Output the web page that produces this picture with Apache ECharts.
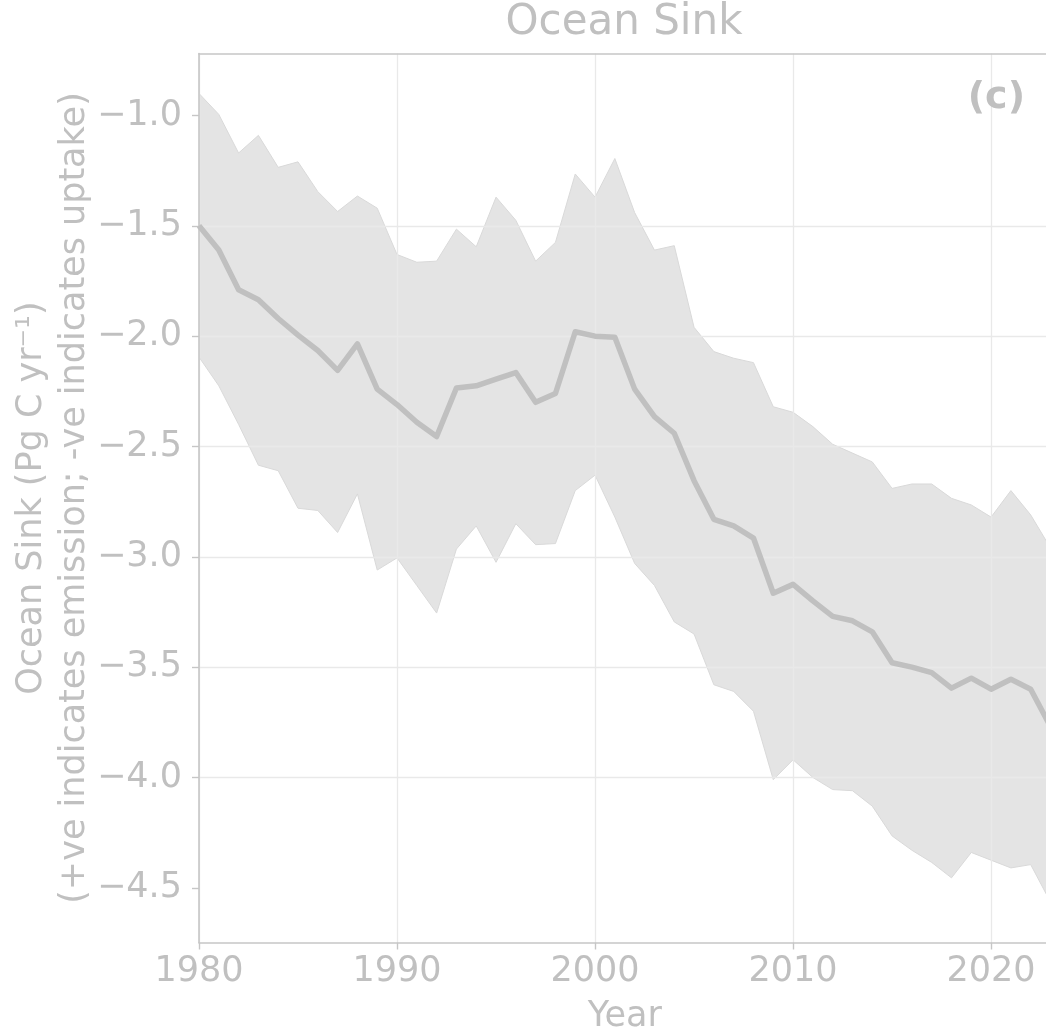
<!DOCTYPE html>
<html>
<head>
<meta charset="utf-8">
<script src="https://cdn.jsdelivr.net/npm/echarts@6/dist/echarts.min.js"></script>
<style>
html,body{margin:0;padding:0;background:#fff;}
#chart{width:1046px;height:1031px;}
</style>
</head>
<body>
<div id="chart"></div>
<script>
const years = [1980,1981,1982,1983,1984,1985,1986,1987,1988,1989,1990,1991,1992,1993,1994,1995,1996,1997,1998,1999,2000,2001,2002,2003,2004,2005,2006,2007,2008,2009,2010,2011,2012,2013,2014,2015,2016,2017,2018,2019,2020,2021,2022,2023];
const meanSink = [-1.50,-1.61,-1.79,-1.835,-1.92,-1.995,-2.065,-2.155,-2.035,-2.24,-2.31,-2.39,-2.455,-2.235,-2.225,-2.195,-2.165,-2.30,-2.26,-1.98,-2.00,-2.005,-2.24,-2.365,-2.44,-2.655,-2.83,-2.86,-2.915,-3.165,-3.125,-3.20,-3.27,-3.29,-3.34,-3.48,-3.50,-3.525,-3.595,-3.55,-3.60,-3.555,-3.60,-3.77];
const upperSink = [-0.90,-0.995,-1.17,-1.09,-1.235,-1.21,-1.345,-1.435,-1.365,-1.42,-1.63,-1.665,-1.66,-1.515,-1.595,-1.37,-1.475,-1.66,-1.575,-1.265,-1.37,-1.195,-1.44,-1.61,-1.59,-1.96,-2.07,-2.10,-2.12,-2.32,-2.345,-2.41,-2.49,-2.53,-2.57,-2.69,-2.67,-2.67,-2.735,-2.765,-2.82,-2.70,-2.81,-2.96];
const lowerSink = [-2.095,-2.225,-2.40,-2.585,-2.61,-2.78,-2.79,-2.89,-2.715,-3.06,-3.005,-3.13,-3.255,-2.965,-2.86,-3.025,-2.85,-2.945,-2.94,-2.70,-2.63,-2.82,-3.03,-3.13,-3.295,-3.35,-3.58,-3.61,-3.70,-4.01,-3.92,-4.00,-4.055,-4.06,-4.13,-4.265,-4.33,-4.385,-4.455,-4.34,-4.375,-4.41,-4.395,-4.565];
const xTicks = [1980,1990,2000,2010,2020];
const yTicks = [-4.5,-4.0,-3.5,-3.0,-2.5,-2.0,-1.5,-1.0];

const TXT = '#c0c0c0';
const SPINE = '#c6c6c6';
const GRID = '#e9e9e9';
const FONT = 'DejaVu Sans';

const bandData = years.map((y,i)=>[y, lowerSink[i], upperSink[i]]);
const meanData = years.map((y,i)=>[y, meanSink[i]]);

function renderBand(params, api){
  if (params.dataIndex !== 0) return null;
  const pts = [];
  for (let k = 0; k < bandData.length; k++) pts.push(api.coord([bandData[k][0], bandData[k][2]]));
  for (let k = bandData.length - 1; k >= 0; k--) pts.push(api.coord([bandData[k][0], bandData[k][1]]));
  return {
    type:'polygon',
    shape:{points:pts},
    style:{fill:'#e4e4e4', stroke:'#d9d9d9', lineWidth:1}
  };
}

const chart = echarts.init(document.getElementById('chart'), null, {renderer:'canvas'});
chart.setOption({
  animation:false,
  backgroundColor:'#fff',
  grid:{left:199, right:-4.5, top:53.5, bottom:88.5, containLabel:false, outerBoundsMode:'none'},
  xAxis:[{
    type:'value', min:1980, max:2023, interval:10, z:3,
    name:'Year', nameLocation:'middle', nameGap:57,
    nameTextStyle:{color:TXT, fontSize:35, fontFamily:FONT},
    axisLine:{show:true, onZero:false, lineStyle:{color:SPINE, width:1.6}},
    axisTick:{show:true, length:7, customValues:xTicks, lineStyle:{color:SPINE, width:1.4}},
    axisLabel:{show:true, customValues:xTicks, margin:12, color:TXT, fontSize:35, fontFamily:FONT, formatter:v=>String(v)},
    splitLine:{show:true, lineStyle:{color:GRID, width:1.3}}
  },{
    type:'value', position:'top', min:1980, max:2023, z:3,
    axisLine:{show:true, onZero:false, lineStyle:{color:SPINE, width:1.6}},
    axisTick:{show:false}, axisLabel:{show:false}, splitLine:{show:false}
  }],
  yAxis:{
    type:'value', min:-4.748, max:-0.719, splitNumber:8, z:3,
    axisLine:{show:true, onZero:false, lineStyle:{color:SPINE, width:1.6}},
    axisTick:{show:true, length:7, customValues:yTicks, lineStyle:{color:SPINE, width:1.4}},
    axisLabel:{show:true, customValues:yTicks, margin:17, color:TXT, fontSize:35, fontFamily:FONT,
      formatter:v=>v.toFixed(1).replace('-', '\u2212')},
    splitLine:{show:true, showMinLine:false, showMaxLine:false, lineStyle:{color:GRID, width:1.3}}
  },
  series:[
    {type:'custom', name:'range', data:bandData, renderItem:renderBand, clip:true, z:1,
      encode:{x:0, y:[1,2]}},
    {type:'line', name:'mean', data:meanData, symbol:'none', z:5,
      lineStyle:{color:'#c0c0c0', width:5.5, join:'round'}}
  ],
  graphic:[
    {type:'text', x:624, y:23, z:10, style:{text:'Ocean Sink', fill:TXT, font:'42px "DejaVu Sans"', textAlign:'center', textVerticalAlign:'middle'}},
    {type:'text', x:1025, y:98, z:10, style:{text:'(c)', fill:TXT, font:'bold 38px "DejaVu Sans"', textAlign:'right', textVerticalAlign:'middle'}},
    {type:'text', x:32, y:498, rotation:Math.PI/2, z:10, style:{text:'Ocean Sink (Pg C yr\u207B\u00B9)', fill:TXT, font:'35px "DejaVu Sans"', textAlign:'center', textVerticalAlign:'middle'}},
    {type:'text', x:75, y:498, rotation:Math.PI/2, z:10, style:{text:'(+ve indicates emission; -ve indicates uptake)', fill:TXT, font:'35px "DejaVu Sans"', textAlign:'center', textVerticalAlign:'middle'}}
  ]
});
</script>
</body>
</html>
